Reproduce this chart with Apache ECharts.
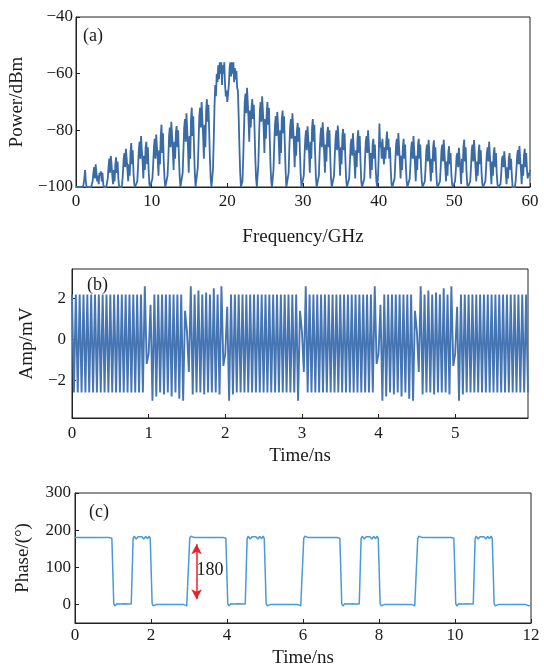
<!DOCTYPE html>
<html>
<head>
<meta charset="utf-8">
<title>BPSK spectrum / waveform / phase</title>
<script src="https://cdn.jsdelivr.net/npm/echarts@6/dist/echarts.min.js"></script>
<style>
  html, body { margin: 0; padding: 0; background: #fff; }
  #chart { width: 544px; height: 669px; }
</style>
</head>
<body>
<div id="chart"></div>
<script>
// (a) spectrum, one value every 0.1 GHz from 0 to 60 GHz (one row = 2 GHz)
var freqStep = 0.1;
var powerDbm = [
  -100,-100,-100,-100,-100,-100,-100,-100,-100,-100,-99,-97,-94,-98,-100,-100,-100,-100,-100,-100,
  -100,-100,-98,-95,-93,-97,-92,-95,-98,-96,-99,-95,-96,-94.5,-98,-95,-99,-100,-100,-100,
  -100,-100,-97,-93,-90,-95,-89,-92,-96,-99,-94,-98,-92,-89.5,-95,-91,-97,-100,-100,-100,
  -100,-99,-95,-90,-88,-93,-86.5,-90,-94,-98,-92,-96,-88,-84.5,-92,-87,-95,-99,-100,-100,
  -100,-98,-93,-87,-84,-90,-82,-87,-91,-97,-89,-94,-86,-84,-92,-86,-94,-99,-100,-100,
  -100,-97,-92,-86,-83,-90,-81.5,-86,-90,-96,-87,-92,-82,-78,-88,-81,-91,-97,-100,-100,
  -100,-96,-90,-82,-79,-86,-77,-82,-87,-94,-84,-90,-81,-78.5,-86,-80,-89,-96,-100,-100,
  -100,-95,-87,-79,-76,-84,-74,-80,-86,-95,-82,-90,-76,-72,-82,-75,-86,-95,-100,-100,
  -100,-93,-84,-75,-72,-79,-70,-76,-82,-90,-78,-86,-73,-69,-77,-71,-80,-90,-97,-100,
  -100,-94,-84,-72,-64,-68,-60,-63,-57,-62,-56,-60,-56,-64,-57,-60,-56,-64,-68,-66,
  -70,-67,-64,-58,-56,-61,-56,-60,-56,-63,-58,-62,-59,-65,-66,-75,-86,-95,-100,-100,
  -98,-90,-80,-70,-67,-74,-65,-70,-76,-84,-73,-79,-72,-69,-76,-71,-80,-90,-97,-100,
  -100,-92,-82,-73,-70,-77,-68,-73,-79,-88,-76,-83,-74,-70,-78,-72,-82,-92,-98,-100,
  -100,-94,-85,-78,-75,-82,-73.5,-78,-84,-92,-80,-88,-76,-73,-81,-75,-85,-94,-100,-100,
  -100,-95,-86,-79,-76,-83,-74,-79,-85,-93,-82,-89,-80,-77.4,-84,-79,-88,-96,-100,-100,
  -100,-96,-89,-83,-80,-87,-78.6,-83,-88,-95,-84,-90,-79,-76,-84,-78,-88,-96,-100,-100,
  -100,-96,-88,-82,-79,-86,-77.2,-82,-88,-95,-85,-91,-81,-78.8,-86,-80,-89,-97,-100,-100,
  -100,-96,-89,-83,-80,-87,-78.3,-83,-89,-96,-86,-92,-82,-79.5,-87,-81,-90,-97,-100,-100,
  -100,-97,-91,-85,-83,-89,-81,-86,-91,-97,-87,-93,-83,-80,-88,-82,-91,-98,-100,-100,
  -100,-97,-90,-84,-82,-88,-80,-85,-90,-97,-88,-94,-85,-83,-90,-85,-93,-98,-100,-97,
  -90,-77.6,-86,-84,-90,-83,-88,-92,-86,-90,-84,-80.4,-87,-83,-90,-86,-94,-99,-100,-100,
  -100,-97,-91,-85,-83,-89,-81,-86,-91,-97,-89,-94,-86,-83,-90,-85,-93,-98,-100,-100,
  -100,-97,-92,-86,-84,-90,-82,-87,-92,-98,-89,-94,-85,-83,-90,-85,-93,-98,-100,-100,
  -100,-98,-93,-87,-85,-91,-83.3,-88,-93,-98,-90,-95,-86,-83.5,-91,-86,-94,-99,-100,-100,
  -100,-98,-93,-87,-85,-91,-83.3,-88,-93,-98,-91,-96,-88,-85.6,-92,-88,-95,-99,-100,-100,
  -100,-98,-94,-89,-88,-93,-86.2,-90,-94,-99,-90,-95,-86,-83.3,-91,-86,-94,-99,-100,-100,
  -100,-98,-93,-87,-85,-91,-83.4,-88,-93,-98,-91,-96,-88,-85,-92,-87,-95,-99,-100,-100,
  -100,-98,-93,-88,-86,-91,-84,-89,-94,-99,-91,-96,-88,-86,-93,-88,-95,-99,-100,-100,
  -100,-99,-95,-90,-89,-93,-87.4,-91,-95,-99,-93,-97,-90,-88,-94,-90,-96,-100,-100,-100,
  -100,-98,-94,-89,-87,-92,-85.5,-90,-94,-99,-92,-96,-89,-86.5,-93,-88,-94,-97,-95,-96,
  -94
];
var freqTicks = [0, 10, 20, 30, 40, 50, 60];
var powerTicks = [-100, -80, -60, -40];

// (b) waveform, peaks and troughs every 0.025 ns
var ampStep = 0.025;
var ampMv = [
  2.2,-2.6,2.2,-2.6,2.2,-2.6,2.2,-2.6,2.2,-2.6,2.2,-2.6,2.2,-2.6,2.2,-2.6,2.2,-2.6,2.2,-2.6,
  2.2,-2.6,2.2,-2.6,2.2,-2.6,2.2,-2.6,2.2,-2.6,2.2,-2.6,2.2,-2.6,2.2,-2.6,2.2,-2.6,
  2.6,-1.2,-0.7,1.7,
  -3.0,2.2,-2.8,2.2,-2.6,2.2,-2.7,2.2,-2.6,2.2,-2.8,2.2,-2.6,2.2,-2.9,2.2,-3.0,1.4,
  0.4,-1.6,
  2.6,-2.7,2.2,-2.6,2.4,-2.6,2.2,-2.7,2.3,-2.6,2.2,-2.6,2.5,-2.6,2.2,-2.7,2.6,-1.3,
  -0.7,1.6,
  -3.0,2.2,-2.7,2.2,
  -2.6,2.2,-2.6,2.2,-2.6,2.2,-2.6,2.2,-2.6,2.2,-2.6,2.2,-2.6,2.2,-2.6,2.2,
  -2.6,2.2,-2.6,2.2,-2.6,2.2,-2.6,2.2,-2.6,2.2,-2.6,2.2,-2.6,2.2,-2.6,2.2,
  -3.0,1.4,
  0.4,-1.6,
  2.6,-2.6,
  2.2,-2.6,2.2,-2.6,2.2,-2.6,2.2,-2.6,2.2,-2.6,2.2,-2.6,2.2,-2.6,2.2,-2.6,2.2,-2.6,
  2.2,-2.6,2.2,-2.6,2.2,-2.6,2.2,-2.6,2.2,-2.6,2.2,-2.6,2.2,-2.6,2.2,-2.6,
  2.6,-1.2,
  -0.7,1.7,
  -3.0,2.2,-2.8,2.2,-2.6,2.2,-2.7,2.2,-2.6,2.2,-2.8,2.2,-2.6,2.2,-2.9,2.2,-3.0,1.4,
  0.4,-1.6,
  2.6,-2.7,2.2,-2.6,2.4,-2.6,2.2,-2.7,2.3,-2.6,2.2,-2.6,2.5,-2.6,2.2,-2.7,2.6,-1.3,
  -0.7,1.6,
  -3.0,2.2,-2.7,2.2,
  -2.6,2.2,-2.6,2.2,-2.6,2.2,-2.6,2.2,-2.6,2.2,-2.6,2.2,-2.6,2.2,-2.6,2.2,
  -2.6,2.2,-2.6,2.2,-2.6,2.2,-2.6,2.2,-2.6,2.2,-2.6,2.2,-2.6,2.2,-2.6,2.2,
  -2.6
];
var ampTimeTicks = [0, 1, 2, 3, 4, 5];
var ampTicks = [-2, 0, 2];

// (c) phase
var phaseTime = [
  0,0.90,0.94,0.97, 1.02,1.05,1.10,1.15,1.20,1.25,1.30,1.35,1.40,1.45,1.48,
  1.53,1.56,1.61,1.66,1.71,1.76,1.81,1.86,1.91,1.95,1.98, 2.03,2.06,2.10,2.15, 2.85,2.90,2.94,
  2.97,3.02,3.05,3.09,3.14,3.90,3.94,3.97, 4.02,4.05,4.10,4.15,4.20,4.25,4.30,4.35,4.40,4.45,4.48,
  4.53,4.56,4.61,4.66,4.71,4.76,4.81,4.86,4.91,4.95,4.98, 5.03,5.06,5.10,5.15, 5.85,5.90,5.94,
  5.97,6.02,6.05,6.09,6.14,6.90,6.94,6.97, 7.02,7.05,7.10,7.15,7.20,7.25,7.30,7.35,7.40,7.45,7.48,
  7.53,7.56,7.61,7.66,7.71,7.76,7.81,7.86,7.91,7.95,7.98, 8.03,8.06,8.10,8.15, 8.85,8.90,8.94,
  8.97,9.02,9.05,9.09,9.14,9.90,9.94,9.97, 10.02,10.05,10.10,10.15,10.20,10.25,10.30,10.35,10.40,10.45,10.48,
  10.53,10.56,10.61,10.66,10.71,10.76,10.81,10.86,10.91,10.95,10.98, 11.03,11.06,11.10,11.15,
  11.85,11.90,11.94,11.97,12.0
];
var phaseDeg = [
  180,180,183,178, 2,-4,2,-3,1,-3,2,-3,1,-4,1,
  178,184,176,182,177,182,176,183,177,184,178, 2,-4,1,0, 0,1,-4,
  1,178,184,179,180,180,183,178, 2,-4,2,-3,1,-3,2,-3,1,-4,1,
  178,184,176,182,177,182,176,183,177,184,178, 2,-4,1,0, 0,1,-4,
  1,178,184,179,180,180,183,178, 2,-4,2,-3,1,-3,2,-3,1,-4,1,
  178,184,176,182,177,182,176,183,177,184,178, 2,-4,1,0, 0,1,-4,
  1,178,184,179,180,180,183,178, 2,-4,2,-3,1,-3,2,-3,1,-4,1,
  178,184,176,182,177,182,176,183,177,184,178, 2,-4,1,0,
  0,1,-4,1,-1
];
var phaseTimeTicks = [0, 2, 4, 6, 8, 10, 12];
var phaseTicks = [0, 100, 200, 300];

// red arrow marking the 180 degree jump
var arrowTime = 3.2;
var arrowTop = 162;
var arrowBottom = 14;
var arrowText = '180';

var myChart = echarts.init(document.getElementById('chart'));

var font = 'Liberation Serif';
var ink = '#1a1a1a';

function minus(v) {
  return String(v).replace('-', '\u2212');
}

// 坐标轴公共样式
function makeAxis(grid, min, max, ticks, name, nameGap, margin) {
  return {
    gridIndex: grid,
    type: 'value',
    min: min,
    max: max,
    axisLine: { show: true, onZero: false, lineStyle: { color: '#222', width: 1 } },
    axisTick: { show: true, inside: true, length: 4, customValues: ticks, lineStyle: { color: '#222' } },
    axisLabel: {
      customValues: ticks,
      fontFamily: font, fontSize: 17, color: ink, margin: margin,
      formatter: minus
    },
    splitLine: { show: false },
    name: name,
    nameLocation: 'middle',
    nameGap: nameGap,
    nameTextStyle: { fontFamily: font, fontSize: 19, color: ink }
  };
}

var gridBox = { show: true, borderColor: '#222', borderWidth: 1, containLabel: false };

myChart.setOption({
  animation: false,
  backgroundColor: '#fff',
  title: [
    { text: '(a)', left: 78, top: 22, textStyle: { fontFamily: font, fontSize: 18, fontWeight: 'normal', color: ink } },
    { text: '(b)', left: 82, top: 271, textStyle: { fontFamily: font, fontSize: 18, fontWeight: 'normal', color: ink } },
    { text: '(c)', left: 84, top: 498, textStyle: { fontFamily: font, fontSize: 18, fontWeight: 'normal', color: ink } }
  ],
  grid: [
    Object.assign({ left: 74, right: 14, top: 17, height: 170 }, gridBox),
    Object.assign({ left: 72, right: 16, top: 269, height: 149 }, gridBox),
    Object.assign({ left: 75, right: 13, top: 493, height: 134 }, gridBox)
  ],
  xAxis: [
    makeAxis(0, 0, 60, freqTicks, 'Frequency/GHz', 41, 6),
    makeAxis(1, 0, 5.95, ampTimeTicks, 'Time/ns', 29, 7),
    makeAxis(2, 0, 12, phaseTimeTicks, 'Time/ns', 26, 4)
  ],
  yAxis: [
    makeAxis(0, -100, -40, powerTicks, 'Power/dBm', 48, 3),
    makeAxis(1, -3.85, 3.45, ampTicks, 'Amp/mV', 28, 6),
    makeAxis(2, -50, 300, phaseTicks, 'Phase/(°)', 42, 4)
  ],
  series: [
    {
      type: 'line',
      xAxisIndex: 0, yAxisIndex: 0,
      symbol: 'none',
      lineStyle: { color: '#3b6ba5', width: 1.8, join: 'miter', miterLimit: 3 },
      data: powerDbm.map(function (v, i) { return [i * freqStep, v]; })
    },
    {
      type: 'line',
      xAxisIndex: 1, yAxisIndex: 1,
      symbol: 'none',
      lineStyle: { color: '#4675b3', width: 1.9, join: 'miter', miterLimit: 3 },
      data: ampMv.map(function (v, i) { return [i * ampStep, v]; })
    },
    {
      type: 'line',
      xAxisIndex: 2, yAxisIndex: 2,
      symbol: 'none',
      lineStyle: { color: '#4a9ad6', width: 1.5 },
      data: phaseTime.map(function (t, i) { return [t, phaseDeg[i]]; }),
      markLine: {
        silent: true,
        symbol: ['arrow', 'arrow'],
        symbolSize: [8, 10],
        lineStyle: { color: '#e8202a', width: 1.5, type: 'solid' },
        label: { show: false },
        data: [[{ coord: [arrowTime, arrowTop] }, { coord: [arrowTime, arrowBottom] }]]
      },
      markPoint: {
        silent: true,
        symbol: 'circle',
        symbolSize: 0,
        label: {
          show: true, position: 'right', distance: 0,
          formatter: arrowText,
          fontFamily: font, fontSize: 18, color: ink
        },
        data: [{ coord: [arrowTime, 92] }]
      }
    }
  ]
});
</script>
</body>
</html>
